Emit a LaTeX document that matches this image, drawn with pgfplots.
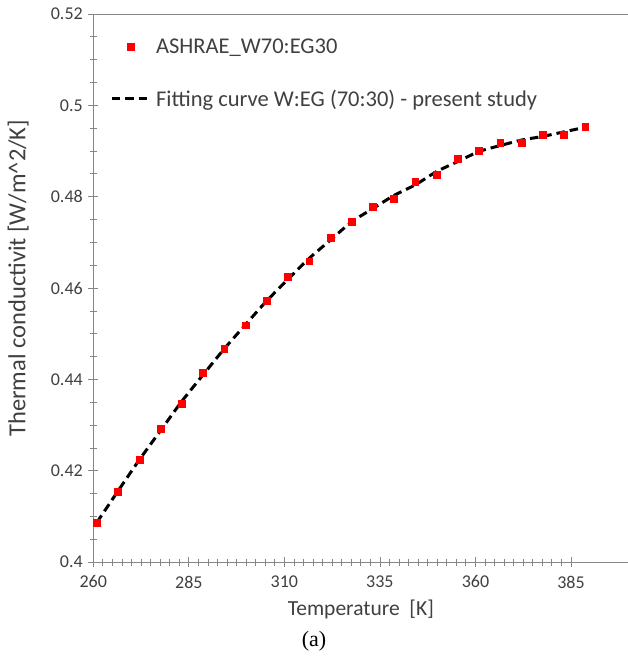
\documentclass[border=0pt]{standalone}
\usepackage{pgfplots}
\pgfplotsset{compat=1.18}
\usepackage{pgfplotstable}
\usepackage{fontspec}
\setmainfont{Carlito}
\newfontfamily\serif{Liberation Serif}
\definecolor{axgray}{HTML}{868686}
\definecolor{txt}{HTML}{404040}
\definecolor{mred}{HTML}{FF0000}

\pgfplotstableread{
T y
260.93 0.4087
266.48 0.4155
272.04 0.4225
277.59 0.4293
283.15 0.4347
288.71 0.4415
294.26 0.4468
299.82 0.4519
305.37 0.4573
310.93 0.4625
316.48 0.4659
322.04 0.4711
327.59 0.4746
333.15 0.4779
338.71 0.4796
344.26 0.4833
349.82 0.4848
355.37 0.4883
360.93 0.4901
366.48 0.4918
372.04 0.4918
377.59 0.4936
383.15 0.4936
388.71 0.4954
}\ashrae

\pgfplotstableread{
T y
260.93 0.4087
266.48 0.4156
272.04 0.4224
277.59 0.4288
283.15 0.4352
288.71 0.4410
294.26 0.4467
299.82 0.4520
305.37 0.4572
310.93 0.4619
316.48 0.4665
322.04 0.4705
327.59 0.4745
333.15 0.4774
338.71 0.4803
344.26 0.4826
349.82 0.4855
355.37 0.4877
360.93 0.4899
366.48 0.4912
372.04 0.4924
377.59 0.4932
383.15 0.4942
388.71 0.4952
}\fitcurve

\pgfplotsset{
  marklegend/.style={legend image code/.code={\draw[##1] plot coordinates {(19pt,0pt)};}},
  linelegend/.style={legend image code/.code={\draw[##1] (0pt,0pt) -- (40pt,0pt);}},
}

\begin{document}
\begin{tikzpicture}
\begin{axis}[
  scale only axis,
  width=535pt, height=548.2pt,
  xmin=260, xmax=400, ymin=0.4, ymax=0.52,
  axis x line=bottom, axis y line=left,
  axis line style={-, axgray, line width=0.9pt},
  xtick={260,285,310,335,360,385},
  xticklabels={260,285,310,335,360,385},
  ytick={0.4,0.42,0.44,0.46,0.48,0.5,0.52},
  yticklabels={0.4,0.42,0.44,0.46,0.48,0.5,0.52},
  minor x tick num=9, minor y tick num=3,
  tick align=center,
  major tick length=10pt, minor tick length=7pt,
  every tick/.style={axgray, line width=0.8pt},
  tick label style={txt, font=\fontsize{18}{20}\selectfont},
  xticklabel style={yshift=-5pt},
  yticklabel style={xshift=-2pt},
  xlabel={Temperature\ \ [K]},
  ylabel={Thermal conductivit [W/m\textasciicircum 2/K]},
  xlabel style={at={(axis description cs:0.5,0)}, anchor=center, yshift=-47pt, txt, font=\fontsize{21.5}{23}\selectfont},
  ylabel style={at={(axis description cs:0,0.518)}, anchor=center, yshift=75pt, txt, font=\fontsize{24.5}{26}\selectfont},
  legend style={draw=none, fill=none, at={(axis description cs:0.031,0.959)}, anchor=north west,
    font=\fontsize{22.5}{24}\selectfont, text=txt, row sep=31pt, inner sep=0pt,
    nodes={inner xsep=3pt}},
  legend cell align=left,
  clip=false,
]
\addplot[only marks, mark=square*, mark size=3.4pt, color=mred, marklegend]
  table[x=T,y=y]{\ashrae};
\addlegendentry{ASHRAE\_W70:EG30}
\addplot[black, line width=3pt, dash pattern=on 8.5pt off 5pt, smooth, tension=0.4, linelegend]
  table[x=T,y=y]{\fitcurve};
\addlegendentry{Fitting curve W:EG (70:30) - present study}
\draw[axgray, line width=0.9pt] (rel axis cs:0,1) -- (rel axis cs:1,1);
\end{axis}
\node[anchor=center, font=\serif\fontsize{22}{24}\selectfont, text=black] at (220.7pt,-79pt) {(a)};
\pgfresetboundingbox
\path[use as bounding box] (-93.3pt,-96.8pt) rectangle (533.7pt,562.2pt);
\end{tikzpicture}
\end{document}
